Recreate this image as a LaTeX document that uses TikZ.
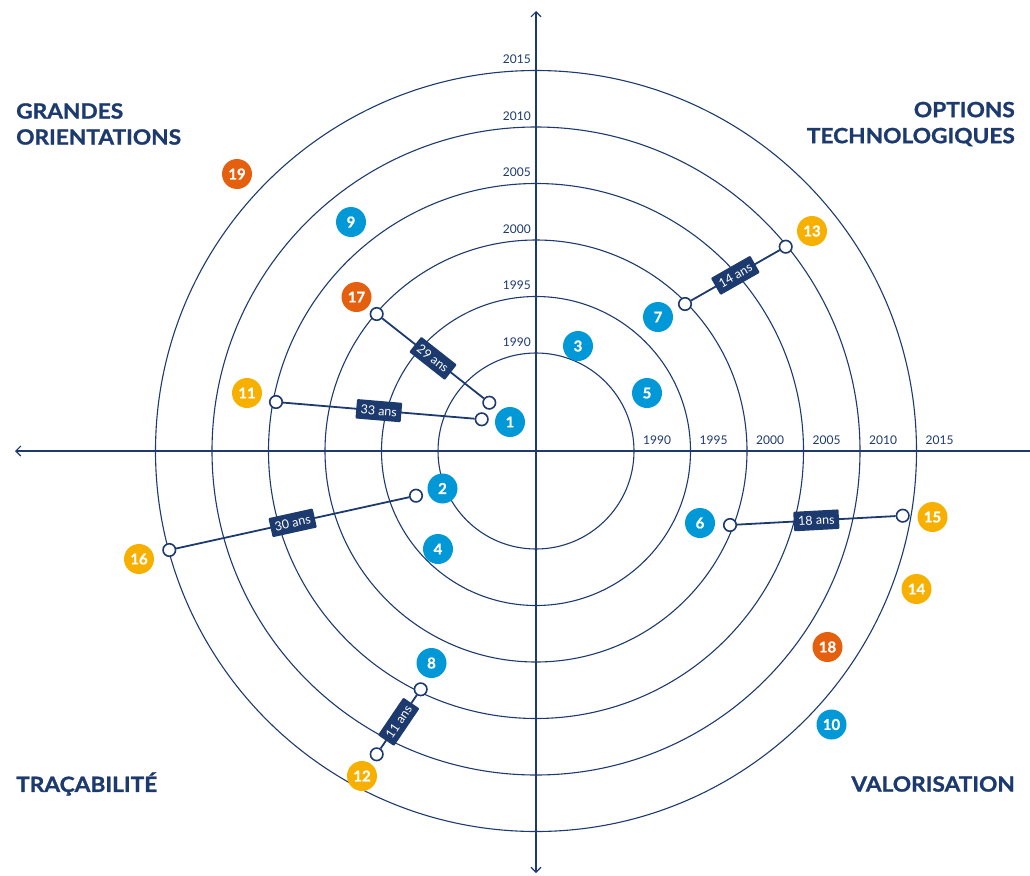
\documentclass[tikz,border=0pt]{standalone}
\usepackage{fontspec}
\setmainfont{Lato}
\newfontfamily\headfont{Lato}[FakeStretch=1.08, FakeBold=1.2]
\newfontfamily\numfont{Lato}[FakeBold=0.8]
\usetikzlibrary{arrows.meta}
\definecolor{navy}{HTML}{1D3A6E}
\definecolor{cblue}{HTML}{0098D6}
\definecolor{cyel}{HTML}{F8B000}
\definecolor{corg}{HTML}{E4600E}
\begin{document}
\begin{tikzpicture}[x=1pt,y=-1pt,
  orbit/.style={draw=navy, line width=1.1pt},
  axisline/.style={draw=navy, line width=1.1pt},
  bub/.style={circle, minimum size=30pt, inner sep=0pt, text=white, font=\numfont\fontsize{15}{15}\selectfont\bfseries},
  blu/.style={bub, fill=cblue},
  yel/.style={bub, fill=cyel},
  org/.style={bub, fill=corg},
  dot/.style={circle, draw=navy, fill=white, line width=1.6pt, minimum size=12.5pt, inner sep=0pt},
  link/.style={draw=navy, line width=1.8pt},
  dur/.style={fill=navy, text=white, font=\fontsize{12.5}{12.5}\selectfont, inner xsep=4.5pt, inner ysep=0pt, minimum height=19.5pt, rounded corners=1pt, sloped, midway},
  yr/.style={text=navy, font=\fontsize{12}{12}\selectfont, inner sep=0pt},
  head/.style={text=navy, font=\headfont\fontsize{21}{26}\selectfont\bfseries, inner sep=0pt}
]
\useasboundingbox (0,0) rectangle (1030,875);
\coordinate (O) at (536,451);
% orbits
\foreach \r in {98,154.5,211,267.5,324,380.5}{
  \draw[orbit] (O) circle[radius=\r pt];
}
% axes
\coordinate (top) at (536,11);
\coordinate (bot) at (536,873);
\coordinate (lft) at (15,451);
\coordinate (rgt) at (1030,451);
\draw[axisline, {Straight Barb[length=5pt,width=10pt]}-{Straight Barb[length=5pt,width=10pt]}] (top) -- (bot);
\draw[axisline, -{Straight Barb[length=5pt,width=10pt]}] (rgt) -- (lft);
% year labels (vertical)
\node[yr, anchor=east] (ya) at (531,342) {1990};
\node[yr, anchor=east] (yb) at (531,285.5) {1995};
\node[yr, anchor=east] (yc) at (531,229) {2000};
\node[yr, anchor=east] (yd) at (531,172.5) {2005};
\node[yr, anchor=east] (ye) at (531,116) {2010};
\node[yr, anchor=east] (yf) at (531,59.5) {2015};
% year labels (horizontal)
\node[yr, anchor=west] (xa) at (643,440) {1990};
\node[yr, anchor=west] (xb) at (699.5,440) {1995};
\node[yr, anchor=west] (xc) at (756,440) {2000};
\node[yr, anchor=west] (xd) at (812.5,440) {2005};
\node[yr, anchor=west] (xe) at (869,440) {2010};
\node[yr, anchor=west] (xf) at (925.5,440) {2015};
% headings
\node[head, anchor=west, align=left] (h1) at (16,124) {GRANDES\\ORIENTATIONS};
\node[head, anchor=east, align=right] (h2) at (1015,124) {OPTIONS\\TECHNOLOGIQUES};
\node[head, anchor=west] (h3) at (16,784) {TRAÇABILITÉ};
\node[head, anchor=east] (h4) at (1015,784) {VALORISATION};
% dots
\node[dot] (d1a) at (489.3,402.7) {};
\node[dot] (d1b) at (481.7,419.3) {};
\node[dot] (d17) at (376.7,314) {};
\node[dot] (d11) at (276,402) {};
\node[dot] (d7) at (685,304) {};
\node[dot] (d13) at (785.7,246.7) {};
\node[dot] (d6) at (730,525) {};
\node[dot] (d15) at (902.7,515.7) {};
\node[dot] (d16) at (169.3,550) {};
\node[dot] (d2) at (416,495.7) {};
\node[dot] (d8) at (420.7,689.3) {};
\node[dot] (d12) at (376.7,754.3) {};
% links
\draw[link] (d17) -- node[dur] (l29) {29 ans} (d1a);
\draw[link] (d11) -- node[dur] (l33) {33 ans} (d1b);
\draw[link] (d7) -- node[dur] (l14) {14 ans} (d13);
\draw[link] (d6) -- node[dur] (l18) {18 ans} (d15);
\draw[link] (d16) -- node[dur] (l30) {30 ans} (d2);
\draw[link] (d12) -- node[dur] (l11) {11 ans} (d8);
% bubbles
\node[blu] (b1) at (510,422) {1};
\node[blu] (b2) at (442.5,488.5) {2};
\node[blu] (b3) at (578,346) {3};
\node[blu] (b4) at (438,549) {4};
\node[blu] (b5) at (647,393) {5};
\node[blu] (b6) at (700,523) {6};
\node[blu] (b7) at (658,317) {7};
\node[blu] (b8) at (431.5,663) {8};
\node[blu] (b9) at (351,222) {9};
\node[blu] (b10) at (831.5,724.5) {10};
\node[yel] (b11) at (247,393) {11};
\node[yel] (b12) at (362,776) {12};
\node[yel] (b13) at (812,231) {13};
\node[yel] (b14) at (916.5,589) {14};
\node[yel] (b15) at (932.5,517) {15};
\node[yel] (b16) at (139,559) {16};
\node[org] (b17) at (356.5,297) {17};
\node[org] (b18) at (827.5,647) {18};
\node[org] (b19) at (237,174) {19};
\end{tikzpicture}
\end{document}
